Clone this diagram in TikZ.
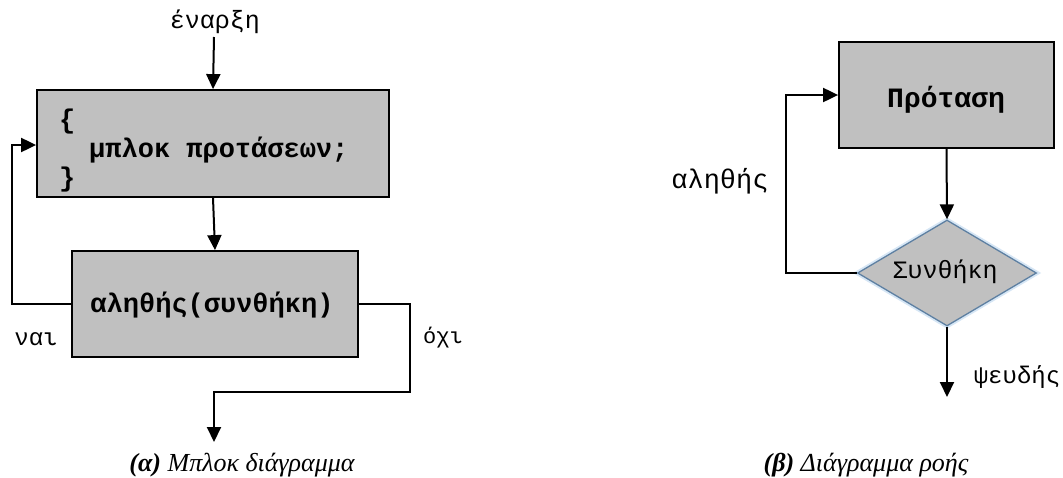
\documentclass[tikz,border=0pt]{standalone}
\usepackage{fontspec}
\usetikzlibrary{arrows.meta,shapes.geometric,calc}
\newfontfamily\monof{Liberation Mono}
\newfontfamily\serf{Liberation Serif}
\definecolor{boxgray}{HTML}{C0C0C0}
\definecolor{diaedge}{HTML}{5E80A2}
\definecolor{glow}{HTML}{D6E6F5}
\newcommand\fsz[1]{\fontsize{#1}{#1}\selectfont}
\begin{document}
\begin{tikzpicture}[x=1pt,y=-1pt,
  box/.style={draw=black,line width=1.8pt,fill=boxgray,minimum width=#1,inner sep=0pt},
  lbl/.style={font=\monof\fsz{25},inner sep=0pt,anchor=base},
  boxtxt/.style={font=\monof\bfseries\fsz{27},inner sep=0pt,anchor=base},
  captxt/.style={font=\serf\itshape\fsz{26},inner sep=0pt,anchor=base},
  conn/.style={line width=2pt,draw=black},
  arr/.style={conn,-{Triangle[length=15pt,width=14pt]}}]
\useasboundingbox[fill=white] (0,0) rectangle (1063,477);
% ---------- left diagram ----------
\node[lbl] (start) at (215,28) {έναρξη};
\coordinate (startpt) at (214,37);
\node[box=352pt,minimum height=107pt] (b1) at (213,143.5) {};
\node[boxtxt,anchor=base west] (ob) at (59,128) {\{};
\node[boxtxt,anchor=base west] (body) at (89,157) {μπλοκ προτάσεων;};
\node[boxtxt,anchor=base west] (cb) at (59,186) {\}};
\node[box=286pt,minimum height=106pt] (b2) at (215,304) {};
\node[boxtxt] (cond) at (212,312) {αληθής(συνθήκη)};
\coordinate (lp1) at (12,304);
\coordinate (lp2) at (12,145);
\coordinate (rp1) at (410,304);
\coordinate (rp2) at (410,392);
\coordinate (rp3) at (214,392);
\coordinate (endpt) at (214,442);
\draw[arr] (startpt) -- (b1.north);
\draw[arr] (b1.south) -- (b2.north);
\draw[arr] (b2.west) -- (lp1) -- (lp2) -- (b1.west |- lp2);
\draw[arr] (b2.east) -- (rp1) -- (rp2) -- (rp3) -- (endpt);
\node[lbl,font=\monof\fsz{24}] (yes) at (36,345) {ναι};
\node[lbl,font=\monof\fsz{22}] (no) at (443,343) {όχι};
\node[captxt] (capa) at (242,471) {\textbf{(α)} Μπλοκ διάγραμμα};
% ---------- right diagram ----------
\node[box=215pt,minimum height=106pt] (b3) at (946.5,95) {};
\node[boxtxt,font=\monof\bfseries\fsz{28}] (stmt) at (946,107) {Πρόταση};
\node[diamond,draw=diaedge,line width=1.3pt,fill=boxgray,minimum width=179pt,minimum height=106pt,inner sep=0pt,aspect=1.69,
  preaction={draw=glow,line width=5pt}] (d) at (947,273) {};
\node[lbl] (dtxt) at (945,278) {Συνθήκη};
\coordinate (rl1) at (786,273);
\coordinate (rl2) at (786,95);
\coordinate (dend) at (947,397);
\draw[arr] (b3.south) -- (d.north);
\draw[arr] (d.west) -- (rl1) -- (rl2) -- (b3.west);
\draw[arr] (d.south) -- (dend);
\node[lbl,font=\monof\fsz{27}] (tr) at (720,188) {αληθής};
\node[lbl,font=\monof\fsz{24}] (fa) at (1017,383) {ψευδής};
\node[captxt] (capb) at (866,471) {\textbf{(β)} Διάγραμμα ροής};
\end{tikzpicture}
\end{document}
